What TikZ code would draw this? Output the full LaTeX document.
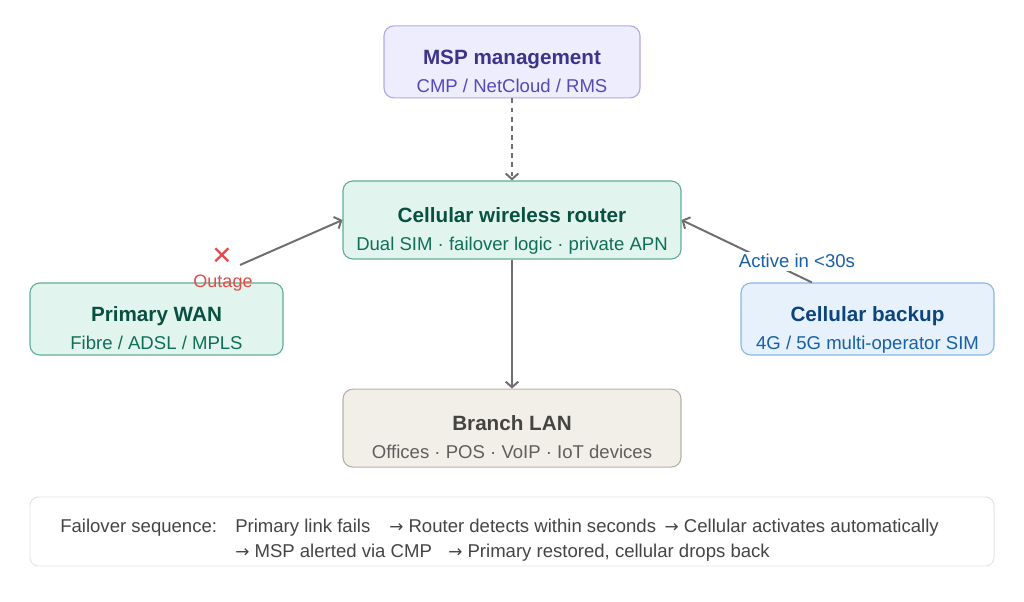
\documentclass[tikz,border=0pt]{standalone}
\usepackage{fontspec}
\setmainfont{Liberation Sans}
\newfontfamily\symfont{DejaVu Sans}
\usepackage{xcolor}
\usepackage{tikz}
\usetikzlibrary{arrows.meta,positioning}

\definecolor{mspfill}{HTML}{EEEDFE}
\definecolor{mspline}{HTML}{AFA9EC}
\definecolor{msptitle}{HTML}{3C3489}
\definecolor{mspsub}{HTML}{534AB7}
\definecolor{grnfill}{HTML}{E1F5EE}
\definecolor{grnline}{HTML}{5FB08F}
\definecolor{grntitle}{HTML}{085041}
\definecolor{grnsub}{HTML}{0F6E56}
\definecolor{blufill}{HTML}{E6F1FB}
\definecolor{bluline}{HTML}{85B7EB}
\definecolor{blutitle}{HTML}{0C447C}
\definecolor{blusub}{HTML}{185FA5}
\definecolor{lanfill}{HTML}{F1EFE8}
\definecolor{lanline}{HTML}{B4B2A9}
\definecolor{lantitle}{HTML}{444441}
\definecolor{lansub}{HTML}{5F5E5A}
\definecolor{wire}{HTML}{6E6E6E}
\definecolor{alert}{HTML}{E24B4A}
\definecolor{notetext}{HTML}{444444}
\definecolor{noteline}{HTML}{E2E2E2}

\newcommand{\heading}[2]{{\color{#1}\bfseries\fontsize{14.7}{19.5}\selectfont #2}}
\newcommand{\thenarrow}{{\symfont\fontsize{12}{12}\selectfont →}}

\begin{document}
\begin{tikzpicture}[
    box/.style={draw, rounded corners=7pt, line width=0.8pt, align=center,
      font=\fontsize{13.2}{19.5}\selectfont, text height=43pt, text depth=0pt},
    wide/.style={box, minimum width=8.45cm, minimum height=1.95cm},
    side/.style={box, minimum width=6.325cm, minimum height=1.8cm},
    note/.style={anchor=base west, inner sep=0pt, text=notetext, font=\fontsize{13.2}{16}\selectfont},
    arrow/.style={-{Straight Barb[length=4pt,width=9pt]}, line width=1.4pt, draw=wire}
]
\useasboundingbox (0,0) rectangle (25.6,-15.05);

\node[wide, fill=grnfill, draw=grnline] (router) at (12.8,-5.5)
  {\heading{grntitle}{Cellular wireless router}\\{\color{grnsub}Dual SIM · failover logic · private APN}};
\node[box, fill=mspfill, draw=mspline, minimum width=6.4cm, minimum height=1.8cm, above=2.05cm of router] (msp)
  {\heading{msptitle}{MSP management}\\{\color{mspsub}CMP / NetCloud / RMS}};
\node[wide, fill=lanfill, draw=lanline, below=3.225cm of router] (lan)
  {\heading{lantitle}{Branch LAN}\\{\color{lansub}Offices · POS · VoIP · IoT devices}};
\node[side, fill=grnfill, draw=grnline] (wan) at (3.9125,-7.975)
  {\heading{grntitle}{Primary WAN}\\{\color{grnsub}Fibre / ADSL / MPLS}};
\node[side, fill=blufill, draw=bluline] (backup) at (21.6875,-7.975)
  {\heading{blutitle}{Cellular backup}\\{\color{blusub}4G / 5G multi-operator SIM}};

\coordinate (wanout) at (6.0,-6.625);
\node[text=alert, font=\symfont\fontsize{18}{18}\selectfont] (fail) at (5.55,-6.4) {✕};
\node[text=alert, font=\fontsize{12.8}{15}\selectfont] (outage) at (5.575,-7.075) {Outage};

\draw[arrow, dashed, dash pattern=on 3.5pt off 3pt] (msp) -- (router);
\draw[arrow] (router) -- (lan);
\draw[arrow] (wanout) -- (router.west);
\draw[arrow] ([xshift=-1.39cm]backup.north) -- node[pos=0.115, yshift=0.35cm, fill=white, text=blusub,
  inner sep=2pt, font=\fontsize{13.2}{16}\selectfont] (active) {Active in <30s} (router.east);

\node[draw=noteline, line width=0.7pt, rounded corners=6pt, minimum width=24.1cm, minimum height=1.725cm] (steps) at (12.8,-13.2875) {};
\node[note] (seq) at (1.5,-13.32) {Failover sequence:};
\node[note] (step1) at (5.875,-13.32) {Primary link fails};
\node[note] (step2) at (9.725,-13.32) {\thenarrow{} Router detects within seconds};
\node[note] (step3) at ([xshift=0.2cm]step2.base east) {\thenarrow{} Cellular activates automatically};
\node[note] (step4) at (5.875,-13.94) {\thenarrow{} MSP alerted via CMP};
\node[note] (step5) at (11.2,-13.94) {\thenarrow{} Primary restored, cellular drops back};
\end{tikzpicture}
\end{document}
